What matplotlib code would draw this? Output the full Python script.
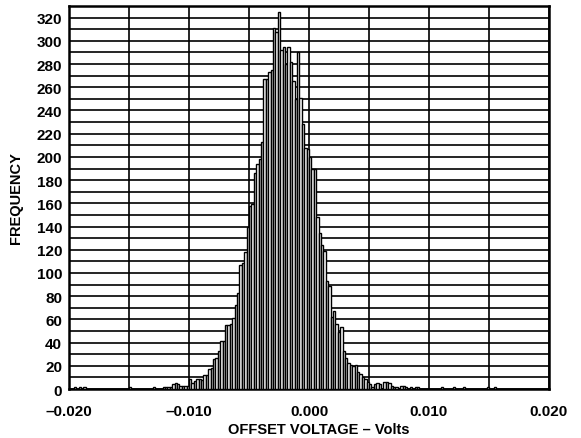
import numpy as np
import matplotlib
matplotlib.use("Agg")
import matplotlib.pyplot as plt
from matplotlib.ticker import MultipleLocator, FuncFormatter

plt.rcParams['font.family'] = ['Liberation Sans', 'DejaVu Sans']
plt.rcParams['font.weight'] = 'bold'

# histogram: 0.2 mV bins
bin_width_mv = 0.2
body_first_center_mv = -12.1   # first bin of the contiguous body
body_counts = [
    2, 2, 2, 2, 4, 5, 4, 3, 3, 3,
    3, 9, 5, 7, 9, 9, 8, 12, 12, 17,
    18, 26, 27, 33, 41, 41, 55, 55, 56, 61,
    72, 83, 107, 109, 118, 140, 158, 159, 186, 194,
    198, 213, 267, 267, 273, 275, 311, 308, 325, 292,
    295, 280, 295, 282, 265, 250, 290, 251, 228, 208,
    207, 200, 190, 190, 148, 134, 124, 119, 93, 89,
    62, 67, 56, 49, 53, 33, 27, 22, 21, 20,
    21, 15, 13, 10, 9, 6, 4, 2, 4, 5,
    4, 0, 6, 6, 5, 3, 2, 2, 0, 3,
    3, 2, 0, 2, 0, 2, 2,
]
# isolated outliers in the tails
tail_mv = [-19.5, -19.1, -18.7, -14.9, -12.9, 11.1, 12.1, 12.9, 14.9, 15.5]
tail_counts = [2, 2, 2, 2, 2, 2, 2, 2, 2, 2]

body_mv = body_first_center_mv + bin_width_mv * np.arange(len(body_counts))
centers_v = np.concatenate([body_mv, tail_mv]) / 1000.0
counts = np.concatenate([body_counts, tail_counts])

fig = plt.figure(figsize=(5.81, 4.39), dpi=100)
ax = fig.add_axes([0.1188, 0.1116, 0.8261, 0.8724])

ax.bar(centers_v, counts, width=bin_width_mv / 1000.0, facecolor='white',
       edgecolor='black', linewidth=1.0, zorder=3)

ax.set_xlim(-0.02, 0.02)
ax.set_ylim(0, 330)

ax.xaxis.set_major_locator(MultipleLocator(0.01))
ax.xaxis.set_minor_locator(MultipleLocator(0.005))
ax.yaxis.set_major_locator(MultipleLocator(20))
ax.yaxis.set_minor_locator(MultipleLocator(10))
ax.xaxis.set_major_formatter(FuncFormatter(lambda v, p: f"{v:.3f}".replace("-", "\u2013")))

ax.grid(True, which='both', color='black', linewidth=1.2)
ax.set_axisbelow(True)

ax.tick_params(which='both', length=0)
ax.tick_params(axis='x', pad=11, labelsize=11)
ax.tick_params(axis='y', pad=5, labelsize=11)
for sp in ax.spines.values():
    sp.set_linewidth(1.8)

ax.set_xlabel("OFFSET VOLTAGE \u2013 Volts", fontsize=10.5, fontweight='bold')
ax.xaxis.set_label_coords(0.52, -0.085)
ax.set_ylabel("FREQUENCY", fontsize=10.5, fontweight='bold')
ax.yaxis.set_label_coords(-0.095, 0.5)

fig.savefig("out.png", dpi=100)
